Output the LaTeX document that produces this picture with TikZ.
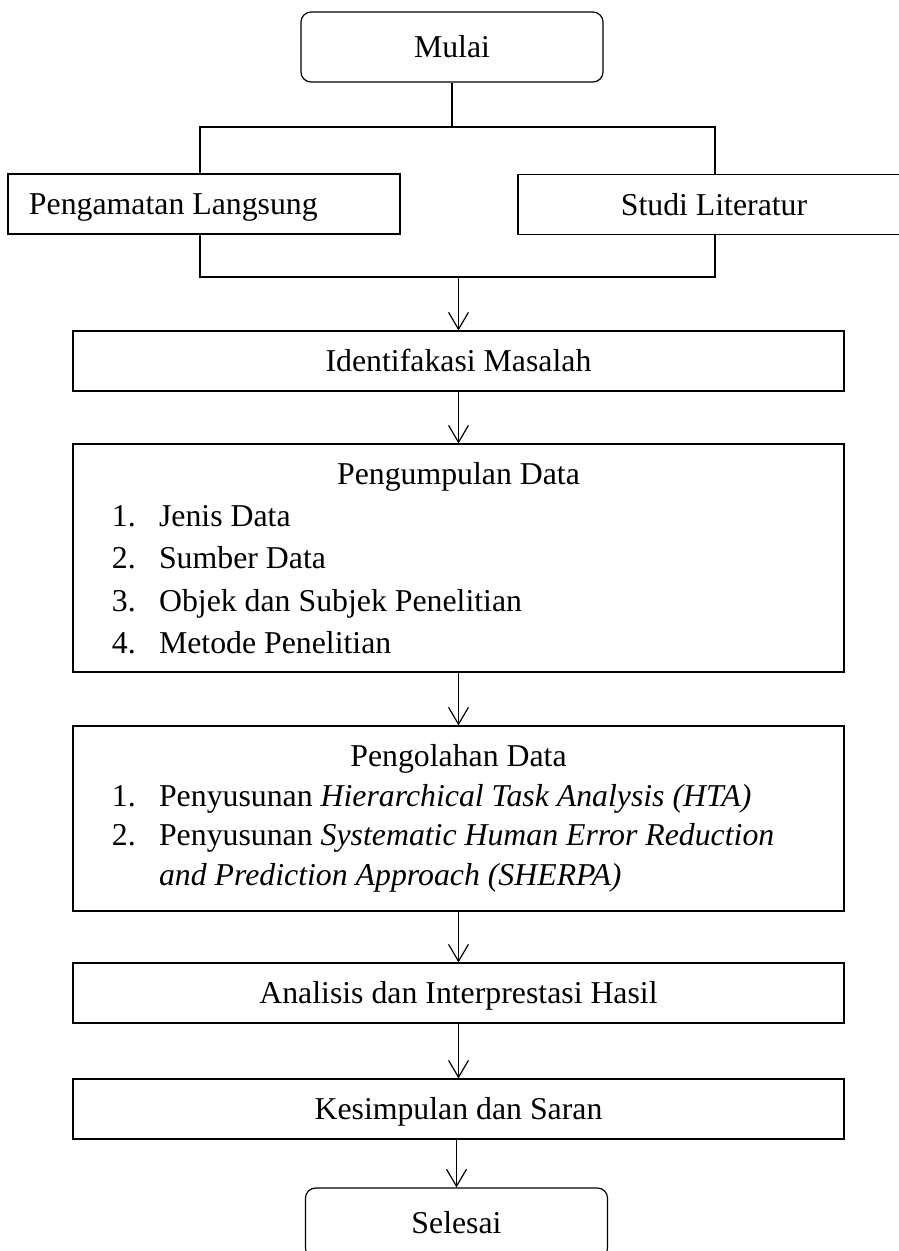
\documentclass[tikz,border=0pt]{standalone}
\usepackage{fontspec}
\setmainfont{Liberation Serif}
\usetikzlibrary{arrows.meta}
\newcommand{\butir}[1]{\hspace*{14.7pt}\makebox[17.8pt][l]{#1}}
\begin{document}
\begin{tikzpicture}
	[x=0.3774pt,y=-0.3774pt,line width=0.45pt,
	  every node/.style={draw,line width=0.45pt,inner sep=0pt,font=\fontsize{12}{16}\selectfont},
	  tunggal/.style={text height=8.2pt,text depth=0pt},
	  terminal/.style={tunggal,rounded corners=3.8pt,minimum width=114pt,minimum height=26.4pt},
	  sisi/.style={tunggal,minimum width=147.9pt,minimum height=22.6pt},
	  proses/.style={tunggal,minimum width=291pt,minimum height=22.6pt},
	  daftar/.style={minimum width=291pt,text width=291pt,align=left},
	  panah/.style={-{Straight Barb[length=6.4pt,width=7.5pt]}}]
	\useasboundingbox (0,0) rectangle (898,1251);
	\node[terminal] (mulai) at (452,47) {Mulai};
	\node[sisi] (amati) at (204,204) {\makebox[132.1pt][l]{Pengamatan Langsung}};
	\node[sisi] (studi) at (714,204.5) {Studi Literatur};
	\node[proses] (identifikasi) at (458.5,361) {Identifakasi Masalah};
	\node[daftar,minimum height=86pt] (kumpul) at (458.5,558) {%
		\spaceskip=0pt\xspaceskip=0pt
		{\centering Pengumpulan Data\par}
		\butir{1.}Jenis Data\par
		\butir{2.}Sumber Data\par
		\butir{3.}Objek dan Subjek Penelitian\par
		\butir{4.}Metode Penelitian};
	\node[daftar,minimum height=69.8pt,font=\fontsize{12}{14.9}\selectfont] (olah) at (458.5,818.5) {%
		\spaceskip=0pt\xspaceskip=0pt
		{\centering Pengolahan Data\par}
		\butir{1.}Penyusunan \textit{Hierarchical Task Analysis (HTA)}\par
		\butir{2.}Penyusunan \textit{Systematic Human Error Reduction}\par
		\hspace*{32.5pt}\textit{and Prediction Approach (SHERPA)}};
	\node[proses] (analisis) at (458.5,993) {Analisis dan Interprestasi Hasil};
	\node[proses] (simpul) at (458.5,1109) {Kesimpulan dan Saran};
	\node[terminal] (selesai) at (456.5,1223) {Selesai};
	\coordinate (kiriAtas) at (200,127);
	\coordinate (kananAtas) at (715,127);
	\coordinate (kiriBawah) at (200,277);
	\coordinate (kananBawah) at (715,277);
	\draw (mulai) -- (mulai |- kiriAtas);
	\draw (kiriAtas |- amati.north) -- (kiriAtas) -- (kananAtas) -- (kananAtas |- studi.north);
	\draw (kiriBawah |- amati.south) -- (kiriBawah) -- (kananBawah) -- (kananBawah |- studi.south);
	\draw[panah] (identifikasi |- kiriBawah) -- (identifikasi);
	\draw[panah] (identifikasi) -- (kumpul);
	\draw[panah] (kumpul) -- (olah);
	\draw[panah] (olah) -- (analisis);
	\draw[panah] (analisis) -- (simpul);
	\draw[panah] (simpul.south -| selesai) -- (selesai);
\end{tikzpicture}
\end{document}
